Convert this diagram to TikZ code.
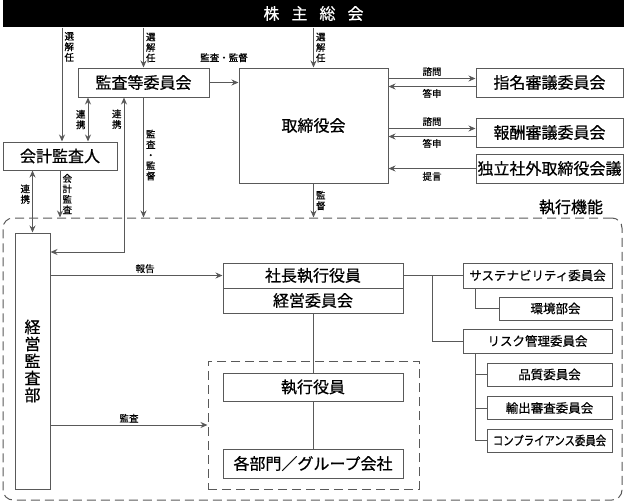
\documentclass[tikz,border=0pt]{standalone}
\usepackage{fontspec}
\setmainfont{Noto Sans CJK JP}[FakeBold=0.6]
\usetikzlibrary{arrows.meta}

\definecolor{linegray}{gray}{0.35}

\tikzset{
  box/.style={draw=linegray, fill=white, inner sep=0pt, font=\fontsize{16}{16}\selectfont},
  comm/.style={box, font=\fontsize{12.5}{12.5}\selectfont},
  lbl/.style={font=\fontsize{9.5}{10.5}\selectfont, inner sep=2pt, align=center},
  arr/.style={draw=linegray, -{Stealth[length=7pt, width=6pt]}},
  dbl/.style={draw=linegray, {Stealth[length=7pt, width=6pt]}-{Stealth[length=7pt, width=6pt]}},
  ln/.style={draw=linegray},
  dashframe/.style={draw=linegray, dash pattern=on 9pt off 5pt}
}

\begin{document}
\begin{tikzpicture}[x=1pt, y=-1pt, line width=1pt]
\useasboundingbox (0,0) rectangle (624,501);

% Draw shareholders meeting bar
\node[fill=black, text=white, minimum width=621pt, minimum height=27pt, inner sep=0pt,
  font=\fontsize{16}{16}\selectfont] (soukai) at (313.5,13.5) {株\hspace{12pt}主\hspace{12pt}総\hspace{12pt}会};

% Draw execution frames
\node[dashframe, rounded corners=10pt, minimum width=619pt, minimum height=282pt] (shikkokino) at (312.5,359) {};
\node[font=\fontsize{16}{16}\selectfont] (shikkolabel) at (571,207) {執行機能};
\node[dashframe, minimum width=211pt, minimum height=128pt] (genba) at (313.5,425) {};

% Draw upper boxes
\node[box, minimum width=131pt, minimum height=29pt] (kansa) at (143.5,82.5) {監査等委員会};
\node[box, minimum width=149pt, minimum height=115pt] (torishimari) at (313.5,125.5) {取締役会};
\node[box, minimum width=114pt, minimum height=28pt] (kaikei) at (60,156) {会計監査人};
\node[box, minimum width=147pt, minimum height=29pt] (shimei) at (549.5,82.5) {指名審議委員会};
\node[box, minimum width=147pt, minimum height=29pt] (houshu) at (549.5,132.5) {報酬審議委員会};
\node[box, minimum width=147pt, minimum height=29pt] (dokuritsu) at (549.5,168.5) {独立社外取締役会議};

% Draw execution boxes
\node[box, minimum width=35pt, minimum height=256pt, align=center,
  font=\fontsize{16}{17}\selectfont] (keieikansa) at (32.5,361) {経\\営\\監\\査\\部};
\node[box, minimum width=180pt, minimum height=25pt] (shacho) at (313,275.5) {社長執行役員};
\node[box, minimum width=180pt, minimum height=25pt] (keieiiin) at (313,300.5) {経営委員会};
\node[box, minimum width=180pt, minimum height=28pt] (shikko) at (313,387) {執行役員};
\node[box, minimum width=180pt, minimum height=29pt] (kakubumon) at (313,463.5) {各部門／グループ会社};

% Draw committees
\node[comm, minimum width=149pt, minimum height=25pt] (sustain) at (537.5,275.5) {サステナビリティ委員会};
\node[comm, minimum width=113pt, minimum height=23pt] (kankyo) at (555.5,308.5) {環境部会};
\node[comm, minimum width=149pt, minimum height=24pt] (risk) at (537.5,341) {リスク管理委員会};
\node[comm, minimum width=125pt, minimum height=23pt] (hinshitsu) at (549.5,374.5) {品質委員会};
\node[comm, minimum width=125pt, minimum height=23pt] (yushutsu) at (549.5,408) {輸出審査委員会};
\node[comm, minimum width=125pt, minimum height=23pt] (compliance) at (549.5,440.5) {\scalebox{.83}[1]{コンプライアンス委員会}};

% Draw arrows from shareholders
\draw[arr] ([xshift=2pt]kaikei.north |- soukai.south) -- node[lbl, pos=0.17, right] {選\\解\\任} ([xshift=2pt]kaikei.north);
\draw[arr] (kansa.north |- soukai.south) -- node[lbl, midway, right] {選\\解\\任} (kansa.north);
\draw[arr] (torishimari.north |- soukai.south) -- node[lbl, midway, right] {選\\解\\任} (torishimari.north);

% Draw audit committee links
\draw[arr] (kansa.east) -- node[lbl, midway, above=18pt] {監査・監督} (kansa.east -| torishimari.west);
\coordinate (renkei) at (88,0);
\draw[dbl] (kaikei.north -| renkei) -- node[lbl, midway, left] {連\\携} (kansa.south -| renkei);
\coordinate (hokoku) at (124,252);
\draw[dbl] (kansa.south -| hokoku) -- node[lbl, pos=0.14, left] {連\\携} (hokoku) -- (keieikansa.east |- hokoku);
\draw[arr] (kansa.south) -- node[lbl, pos=0.48, right] {監\\査\\・\\監\\督} (kansa.south |- shikkokino.north);

% Draw auditor links
\draw[arr] (kaikei.south) -- node[lbl, midway, right] {会\\計\\監\\査} (kaikei.south |- shikkokino.north);
\draw[dbl] (kaikei.south -| keieikansa.north) -- node[lbl, pos=0.38, left] {連\\携} (keieikansa.north);
\draw[arr] (torishimari.south) -- node[lbl, midway, right] {監\\督} (torishimari.south |- shikkokino.north);

% Draw board advisory arrows
\draw[arr] ([yshift=4pt]torishimari.east |- shimei.west) -- node[lbl, midway, above] {諮問} ([yshift=4pt]shimei.west);
\draw[arr] ([yshift=-4pt]shimei.west) -- node[lbl, midway, below] {答申} ([yshift=-4pt]torishimari.east |- shimei.west);
\draw[arr] ([yshift=4pt]torishimari.east |- houshu.west) -- node[lbl, midway, above] {諮問} ([yshift=4pt]houshu.west);
\draw[arr] ([yshift=-4pt]houshu.west) -- node[lbl, midway, below] {答申} ([yshift=-4pt]torishimari.east |- houshu.west);
\draw[arr] (dokuritsu.west) -- node[lbl, midway, below=1pt] {提言} (torishimari.east |- dokuritsu.west);

% Draw internal audit arrows
\draw[arr] (keieikansa.east |- shacho.west) -- node[lbl, pos=0.55, above] {報告} (shacho.west);
\draw[arr] (keieikansa.east |- genba.west) -- node[lbl, midway, above] {監査} (genba.west);

% Draw execution lines
\draw[ln] (keieiiin.south) -- (shikko.north);
\draw[ln] (shikko.south) -- (kakubumon.north);
\coordinate (bunki) at (432,0);
\draw[ln] (shacho.east) -- (sustain.west);
\draw[ln] (bunki |- shacho.east) |- (risk.west);
\draw[ln] ([xshift=13pt]sustain.south west) |- (kankyo.west);
\foreach \n in {hinshitsu,yushutsu,compliance}
  \draw[ln] ([xshift=13pt]risk.south west) |- (\n.west);

\end{tikzpicture}
\end{document}
